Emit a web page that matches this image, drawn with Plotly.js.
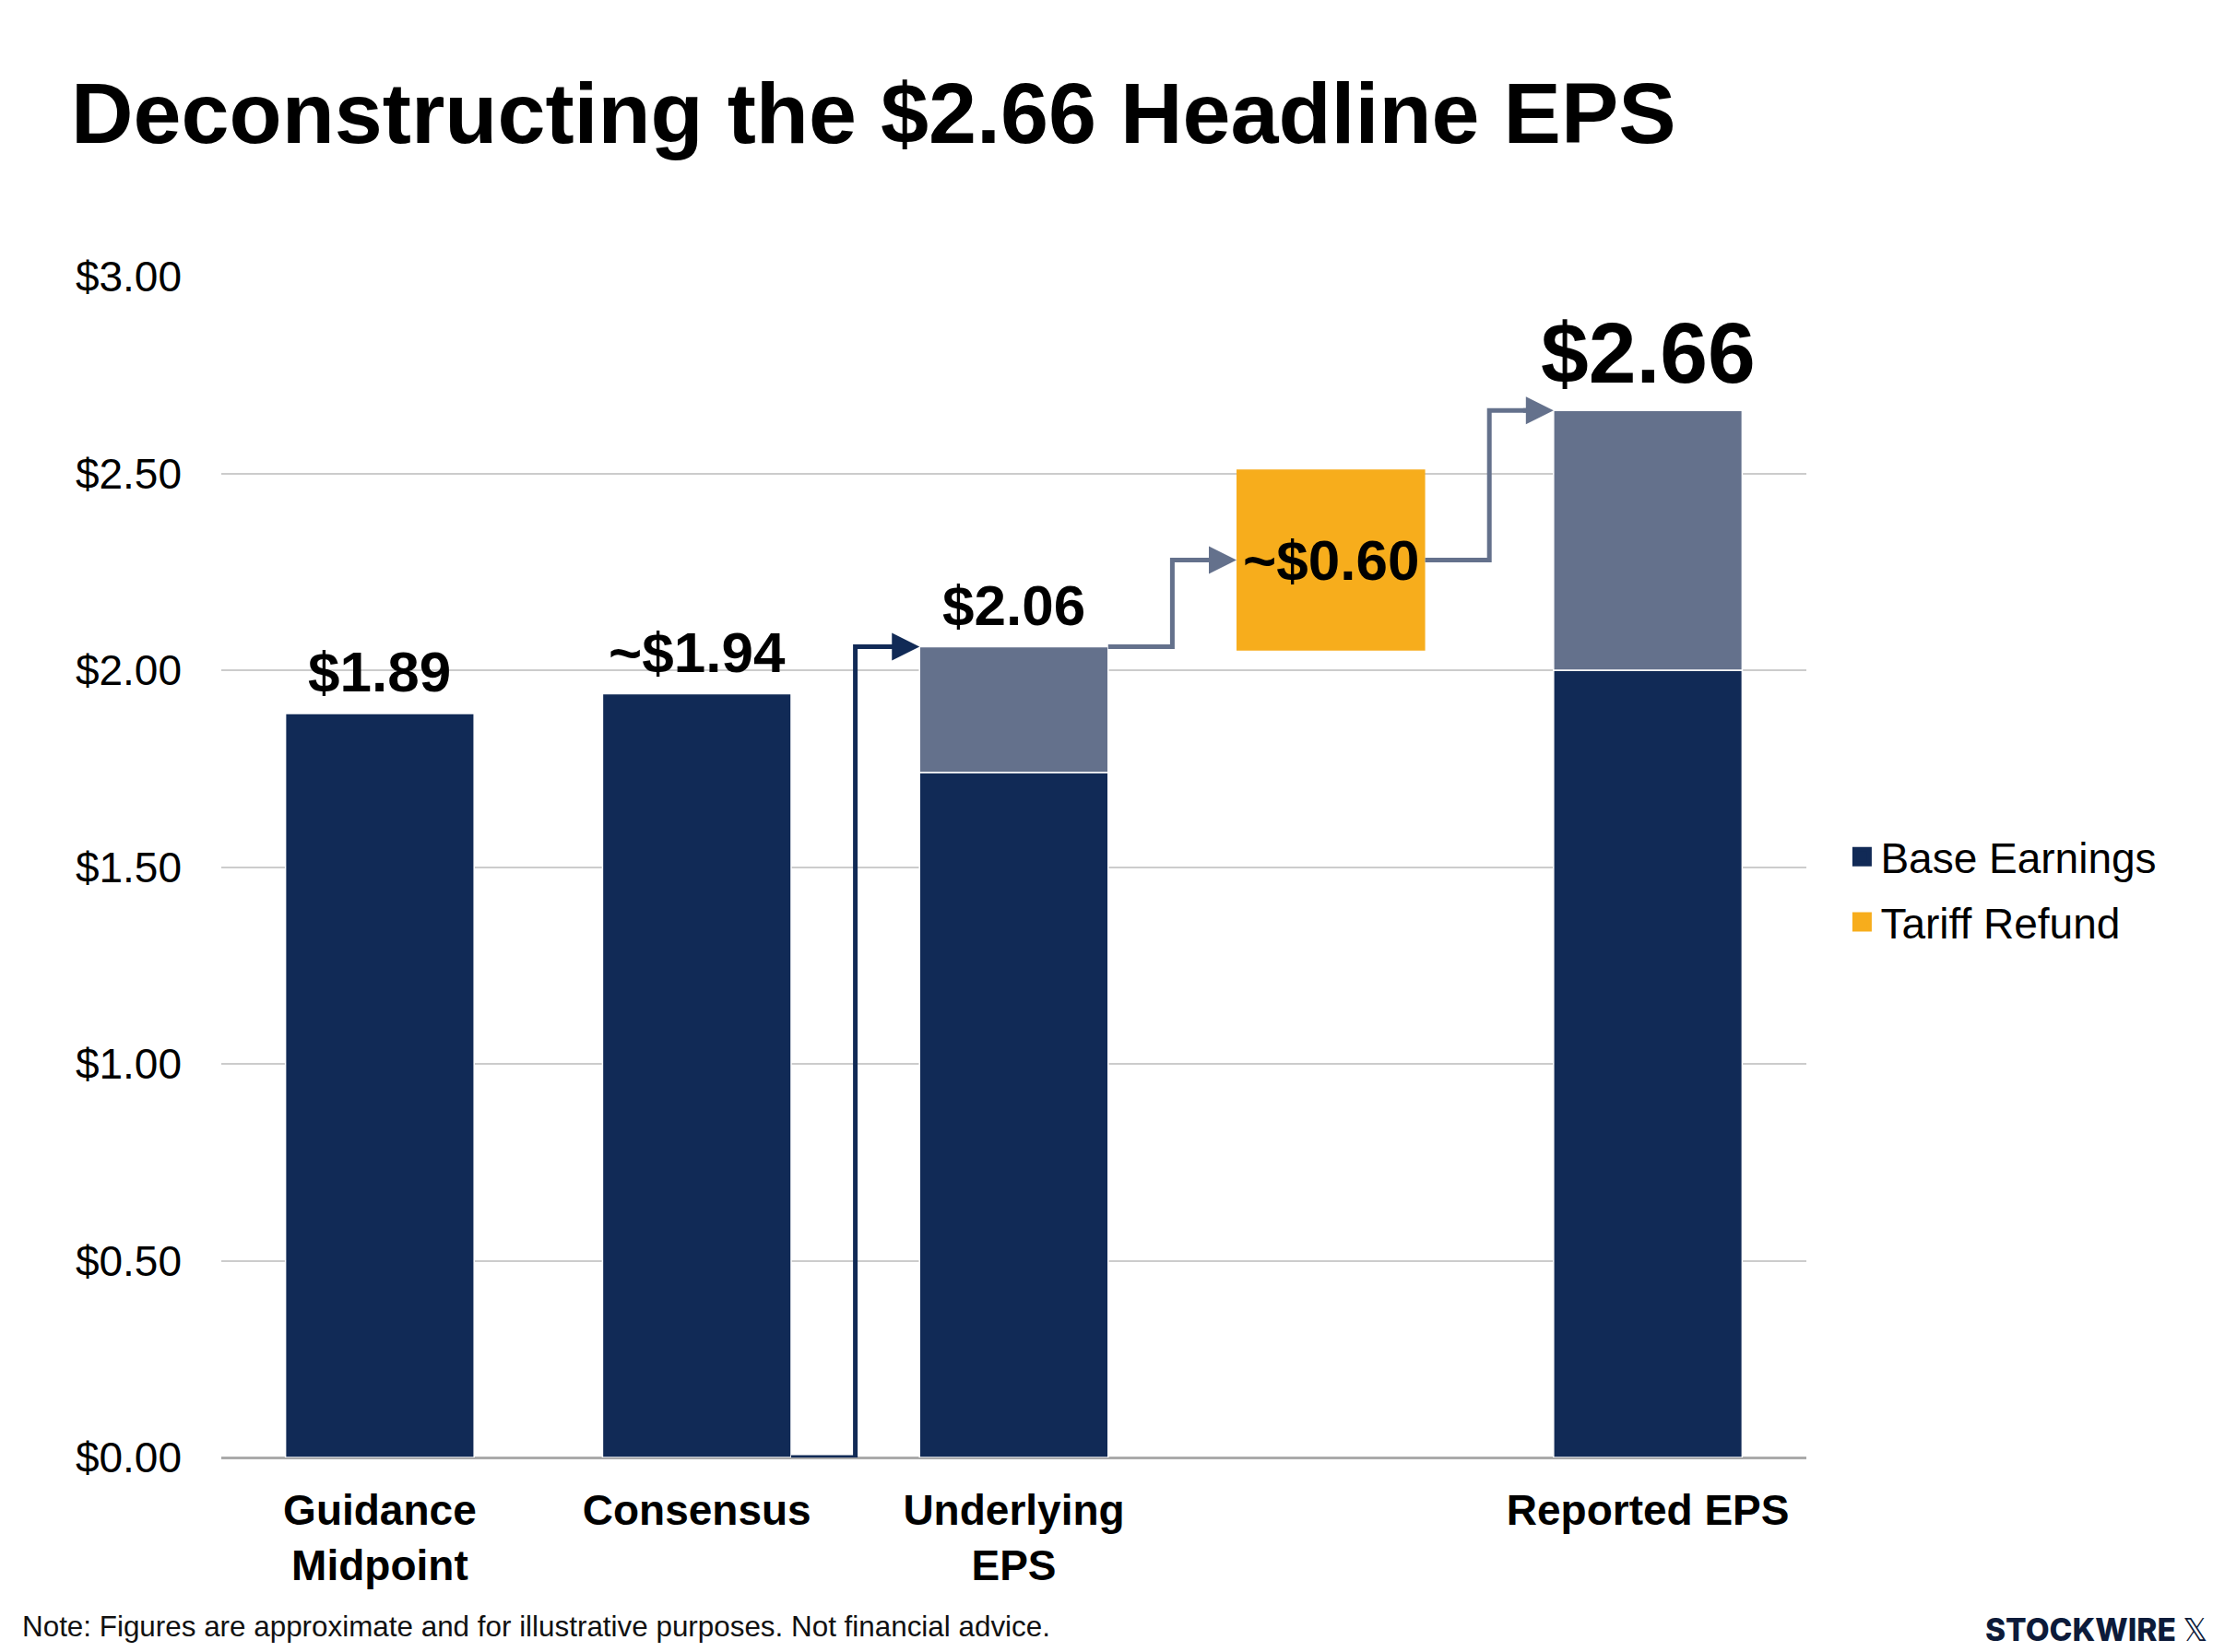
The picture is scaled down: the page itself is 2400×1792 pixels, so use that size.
<!DOCTYPE html>
<html>
<head>
<meta charset="utf-8">
<script src="https://cdn.plot.ly/plotly-3.0.1.min.js"></script>
<style>html,body{margin:0;padding:0;background:#fff;}#chart{width:2400px;height:1792px;}</style>
</head>
<body>
<div id="chart"></div>
<script>
// ---- data ----
const categories = ['Guidance Midpoint', 'Consensus', 'Underlying EPS', 'Tariff Refund', 'Reported EPS'];
const tickLabels = ['Guidance<br>Midpoint', 'Consensus', 'Underlying<br>EPS', '', 'Reported EPS'];
const baseEarnings = [1.89, 1.94, 1.74, null, 2.00];
const adjustments = [null, null, 0.32, null, 0.66];
const tariffBase = [null, null, null, 2.05, null];
const tariffRefund = [null, null, null, 0.46, null];
const valueLabels = ['$1.89', '~$1.94', '$2.06', '~$0.60', '$2.66'];
const yTicks = [0, 0.5, 1, 1.5, 2, 2.5, 3];
const yTickLabels = ['$0.00', '$0.50', '$1.00', '$1.50', '$2.00', '$2.50', '$3.00'];

// ---- styles ----
const NAVY = '#112a56', SLATE = '#64718c', GOLD = '#f7ad1c';
const FONT = 'Liberation Sans, Arial, Helvetica, sans-serif';
const BW = 0.595;

const idx = categories.map((_, i) => i);
const totals = idx.map(i => baseEarnings[i] == null ? null : baseEarnings[i] + (adjustments[i] || 0));
const tariffMid = idx.map(i => tariffBase[i] == null ? null : tariffBase[i] + tariffRefund[i] / 2);

const traces = [];
traces.push({
  type: 'bar', x: idx, y: baseEarnings, width: BW, base: 0,
  marker: {color: NAVY, line: {color: '#ffffff', width: 1.5}},
  showlegend: false, hoverinfo: 'skip'
});
traces.push({
  type: 'bar', x: idx, y: adjustments, base: baseEarnings.map(v => v == null ? 0 : v), width: BW,
  marker: {color: SLATE, line: {color: '#ffffff', width: 1.5}},
  showlegend: false, hoverinfo: 'skip'
});
traces.push({
  type: 'bar', x: idx, y: tariffRefund, base: tariffBase.map(v => v == null ? 0 : v), width: BW,
  marker: {color: GOLD, line: {width: 0}},
  showlegend: false, hoverinfo: 'skip'
});

// connectors
const iCons = 1, iUnd = 2, iTar = 3, iRep = 4;
const half = BW / 2;
const connectors = [
  {from: iCons, y0: 0, to: iUnd, y1: totals[iUnd], color: NAVY},
  {from: iUnd, y0: totals[iUnd], to: iTar, y1: tariffMid[iTar], color: SLATE},
  {from: iTar, y0: tariffMid[iTar], to: iRep, y1: totals[iRep], color: SLATE}
];
const annotations = [];
connectors.forEach(c => {
  const mid = (c.from + c.to) / 2;
  const xs = c.from + half, xe = c.to - half;
  traces.push({
    type: 'scatter', mode: 'lines', x: [xs, mid, mid, xe - 0.06], y: [c.y0, c.y0, c.y1, c.y1],
    line: {color: c.color, width: 5}, cliponaxis: false, showlegend: false, hoverinfo: 'skip'
  });
  annotations.push({
    x: xe, y: c.y1, ax: xe - 0.1, ay: c.y1, xref: 'x', yref: 'y', axref: 'x', ayref: 'y',
    text: '', showarrow: true, arrowhead: 2, arrowsize: 1.2, arrowwidth: 5, arrowcolor: c.color, standoff: 0
  });
});

// legend entries
traces.push({type: 'scatter', mode: 'markers', x: [null], y: [null], name: 'Base Earnings',
  marker: {symbol: 'square', size: 16, color: NAVY, line: {color: NAVY, width: 5}}, legendgroup: 'a', hoverinfo: 'skip'});
traces.push({type: 'scatter', mode: 'markers', x: [null], y: [null], name: 'Tariff Refund',
  marker: {symbol: 'square', size: 16, color: GOLD, line: {color: GOLD, width: 5}}, legendgroup: 'b', hoverinfo: 'skip'});

// value labels
idx.forEach(i => {
  if (tariffBase[i] != null) {
    annotations.push({x: i, y: tariffMid[i], xref: 'x', yref: 'y', text: valueLabels[i], showarrow: false,
      font: {family: FONT, size: 62, color: '#000', weight: 700}, yanchor: 'middle'});
  } else {
    const big = i === iRep;
    annotations.push({x: i, y: totals[i], xref: 'x', yref: 'y', text: valueLabels[i], showarrow: false,
      font: {family: FONT, size: big ? 93 : 62, color: '#000', weight: 700}, yanchor: 'middle',
      yshift: big ? 62 : 45});
  }
});

// footnote & logo
annotations.push({xref: 'paper', yref: 'paper', x: -0.127, y: -0.1435, xanchor: 'left', yanchor: 'middle',
  text: 'Note: Figures are approximate and for illustrative purposes. Not financial advice.', showarrow: false,
  font: {family: FONT, size: 31.4, color: '#111'}});
annotations.push({xref: 'paper', yref: 'paper', x: 1.2545, y: -0.146, xanchor: 'right', yanchor: 'middle',
  text: 'STOCKWIRE <span style="font-weight:400">𝕏</span>', showarrow: false,
  font: {family: 'Inter, DejaVu Sans, sans-serif', size: 33.5, color: '#0d1b3a', weight: 800}});

const layout = {
  width: 2400, height: 1792,
  paper_bgcolor: '#ffffff', plot_bgcolor: '#ffffff',
  margin: {l: 240, r: 441, t: 300, b: 211, pad: 0},
  barmode: 'overlay',
  title: {text: 'Deconstructing the $2.66 Headline EPS', x: 77 / 2400, xanchor: 'left', xref: 'container',
    y: 1 - 122 / 1792, yanchor: 'middle', yref: 'container',
    font: {family: FONT, size: 93.5, color: '#000', weight: 700}},
  xaxis: {range: [-0.5, 4.5], tickvals: idx, ticktext: tickLabels, showgrid: false, zeroline: false,
    showline: false, ticks: '', ticklabelstandoff: 26,
    tickfont: {family: FONT, size: 46, color: '#000', weight: 700}, fixedrange: true},
  yaxis: {range: [0, 3], tickvals: yTicks, ticktext: yTickLabels, showgrid: true, gridcolor: '#cccccc',
    gridwidth: 2, zeroline: true, zerolinecolor: '#aaaaaa', zerolinewidth: 3, showline: false, ticks: '',
    ticklabelstandoff: 42, tickfont: {family: FONT, size: 46, color: '#000'}, fixedrange: true},
  showlegend: true,
  legend: {x: 1.0235, xanchor: 'left', y: 0.481, yanchor: 'middle', traceorder: 'grouped', tracegroupgap: 8,
    font: {family: FONT, size: 46, color: '#000'}, bgcolor: 'rgba(0,0,0,0)', itemwidth: 30},
  annotations: annotations
};

Plotly.newPlot('chart', traces, layout, {staticPlot: true, displayModeBar: false});
</script>
</body>
</html>
